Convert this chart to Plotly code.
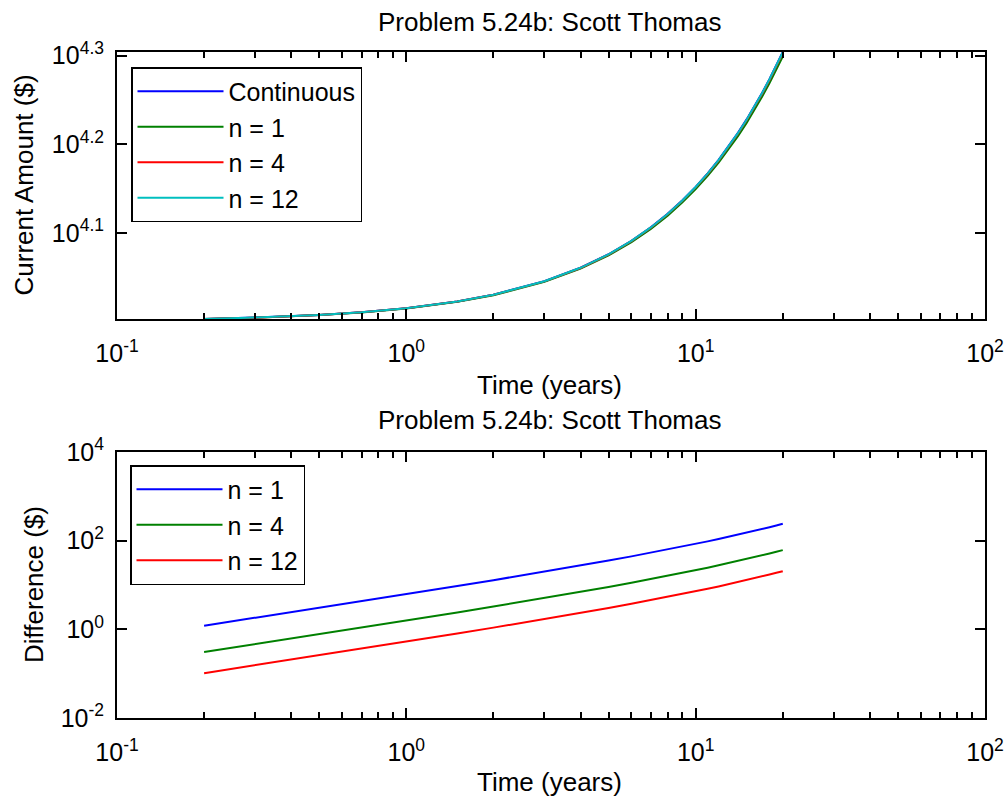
import plotly.graph_objects as go

# ---------------- data ----------------
t_years = [0.2, 0.3, 0.5, 0.7, 1, 1.5, 2, 3, 4, 5, 6, 7, 8, 9, 10,
           11, 12, 13, 14, 15, 16, 17, 18, 19, 20]

amount_continuous = [10070.25, 10105.55, 10176.54, 10248.03, 10356.20, 10539.03,
                     10725.08, 11107.11, 11502.74, 11912.46, 12336.78, 12776.21,
                     13231.30, 13702.59, 14190.68, 14696.15, 15219.62, 15761.73,
                     16323.16, 16904.59, 17506.73, 18130.31, 18776.11, 19444.91,
                     20137.53]
amount_n1 = [10069.04, 10103.74, 10173.49, 10243.74, 10350.00, 10529.57,
             10712.25, 11087.18, 11475.23, 11876.86, 12292.55, 12722.79,
             13168.09, 13628.97, 14105.99, 14599.70, 15110.69, 15639.56,
             16186.94, 16753.49, 17339.87, 17946.76, 18574.90, 19225.02,
             19897.89]
amount_n4 = [10069.94, 10105.09, 10175.77, 10246.94, 10354.62, 10536.62,
             10721.81, 11102.04, 11495.74, 11903.40, 12325.52, 12762.60,
             13215.19, 13683.83, 14169.09, 14671.56, 15191.84, 15730.57,
             16288.41, 16866.03, 17464.14, 18083.45, 18724.73, 19388.74,
             20076.31]
amount_n12 = [10070.15, 10105.40, 10176.28, 10247.66, 10355.67, 10538.22,
              10723.99, 11105.41, 11500.40, 11909.43, 12333.01, 12771.65,
              13225.91, 13696.31, 14183.45, 14687.92, 15210.32, 15751.29,
              16311.52, 16891.68, 17492.47, 18114.62, 18758.90, 19426.10,
              20117.02]

diff_n1 = [1.2055, 1.8145, 3.0453, 4.2930, 6.1971, 9.4584, 12.832, 19.927,
           27.508, 35.599, 44.227, 53.420, 63.207, 73.618, 84.687, 96.446,
           108.93, 122.17, 136.22, 151.10, 166.86, 183.55, 201.21, 219.89,
           239.64]
diff_n4 = [0.30662, 0.46154, 0.77464, 1.0921, 1.5765, 2.4064, 3.2651, 5.0717,
           7.0025, 9.0643, 11.264, 13.608, 16.105, 18.762, 21.587, 24.590,
           27.779, 31.164, 34.754, 38.559, 42.592, 46.861, 51.383, 56.165,
           61.222]
diff_n12 = [0.10260, 0.15444, 0.25921, 0.36544, 0.52757, 0.80532, 1.0927,
            1.6973, 2.3436, 3.0339, 3.7702, 4.5551, 5.3911, 6.2809, 7.2272,
            8.2329, 9.3010, 10.435, 11.637, 12.912, 14.263, 15.694, 17.209,
            18.812, 20.506]

top_names = ["Continuous", "n = 1", "n = 4", "n = 12"]
bottom_names = ["n = 1", "n = 4", "n = 12"]

x_tickvals = [0.1, 1, 10, 100]
x_ticktext = ["10<sup>-1</sup>", "10<sup>0</sup>", "10<sup>1</sup>", "10<sup>2</sup>"]
top_y_tickvals = [10 ** 4.1, 10 ** 4.2, 10 ** 4.3]
top_y_ticktext = ["10<sup>4.1</sup>", "10<sup>4.2</sup>", "10<sup>4.3</sup>"]
bot_y_tickvals = [0.01, 1, 100, 10000]
bot_y_ticktext = ["10<sup>-2</sup>", "10<sup>0</sup>", "10<sup>2</sup>", "10<sup>4</sup>"]

title_text = "Problem 5.24b: Scott Thomas"
xlabel_text = "Time (years)"
top_ylabel = "Current Amount ($)"
bot_ylabel = "Difference ($)"

# ---------------- styles ----------------
W, H = 1005, 800
FONT = "Liberation Sans, Arial, Helvetica, sans-serif"
BLUE, GREEN, RED, CYAN = "#0000FF", "#008000", "#FF0000", "#00BFBF"
top_colors = [BLUE, GREEN, RED, CYAN]
bot_colors = [BLUE, GREEN, RED]

x_dom = [117 / W, 985 / W]
top_dom = [1 - 319 / H, 1 - 52 / H]
bot_dom = [1 - 718 / H, 1 - 452 / H]

minor_x = [0.2, 0.3, 0.4, 0.5, 0.6, 0.7, 0.8, 0.9,
           2, 3, 4, 5, 6, 7, 8, 9,
           20, 30, 40, 50, 60, 70, 80, 90]

fig = go.Figure()

for name, ys, col in zip(top_names, [amount_continuous, amount_n1, amount_n4, amount_n12], top_colors):
    fig.add_trace(go.Scatter(x=t_years, y=ys, mode="lines", name=name,
                             line=dict(color=col, width=2),
                             xaxis="x", yaxis="y", legend="legend"))

for name, ys, col in zip(bottom_names, [diff_n1, diff_n4, diff_n12], bot_colors):
    fig.add_trace(go.Scatter(x=t_years, y=ys, mode="lines", name=name,
                             line=dict(color=col, width=2),
                             xaxis="x2", yaxis="y2", legend="legend2"))


def xaxis_cfg(anchor):
    return dict(type="log", range=[-1, 2], domain=x_dom, anchor=anchor,
                showline=True, linecolor="black", linewidth=2, mirror="ticks",
                ticks="inside", ticklen=10, tickwidth=2, tickcolor="black",
                tickvals=x_tickvals, ticktext=x_ticktext,
                ticklabelstandoff=11,
                minor=dict(ticks="inside", ticklen=6, tickwidth=2,
                           tickcolor="black", tickvals=minor_x, showgrid=False),
                showgrid=False, zeroline=False, automargin=False,
                tickfont=dict(family=FONT, size=25, color="black"))


def yaxis_cfg(anchor, dom, rng, tv, tt):
    return dict(type="log", range=rng, domain=dom, anchor=anchor,
                showline=True, linecolor="black", linewidth=2, mirror="ticks",
                ticks="inside", ticklen=10, tickwidth=2, tickcolor="black",
                tickvals=tv, ticktext=tt, ticklabelstandoff=6,
                showgrid=False, zeroline=False, automargin=False,
                tickfont=dict(family=FONT, size=25, color="black"))


legend_common = dict(xanchor="left", yanchor="top", bgcolor="white",
                     bordercolor="black", borderwidth=1.5,
                     font=dict(family=FONT, size=25, color="black"),
                     itemwidth=86, tracegroupgap=0)

fig.update_layout(
    width=W, height=H,
    margin=dict(l=0, r=0, t=0, b=0),
    paper_bgcolor="white", plot_bgcolor="white",
    font=dict(family=FONT, size=25, color="black"),
    xaxis=xaxis_cfg("y"),
    yaxis=yaxis_cfg("x", top_dom, [4.003, 4.304], top_y_tickvals, top_y_ticktext),
    xaxis2=xaxis_cfg("y2"),
    yaxis2=yaxis_cfg("x2", bot_dom, [-2, 4], bot_y_tickvals, bot_y_ticktext),
    legend=dict(x=131 / W, y=1 - 67 / H, **legend_common),
    legend2=dict(x=130 / W, y=1 - 465 / H, **legend_common),
    showlegend=True,
)

ann_font = dict(family=FONT, size=26, color="black")
annotations = [
    dict(text=title_text, x=549 / W, y=1 - 22 / H),
    dict(text=title_text, x=549 / W, y=1 - 420 / H),
    dict(text=xlabel_text, x=549 / W, y=1 - 385 / H),
    dict(text=xlabel_text, x=549 / W, y=1 - 782 / H),
    dict(text=top_ylabel, x=23 / W, y=1 - 185.5 / H, textangle=-90),
    dict(text=bot_ylabel, x=34 / W, y=1 - 585 / H, textangle=-90),
]
for a in annotations:
    fig.add_annotation(xref="paper", yref="paper", showarrow=False,
                       xanchor="center", yanchor="middle", font=ann_font, **a)

fig.write_html("out.html",
               config={"displayModeBar": False, "staticPlot": True},
               post_script="document.body.style.margin='0';document.body.style.overflow='hidden';")
